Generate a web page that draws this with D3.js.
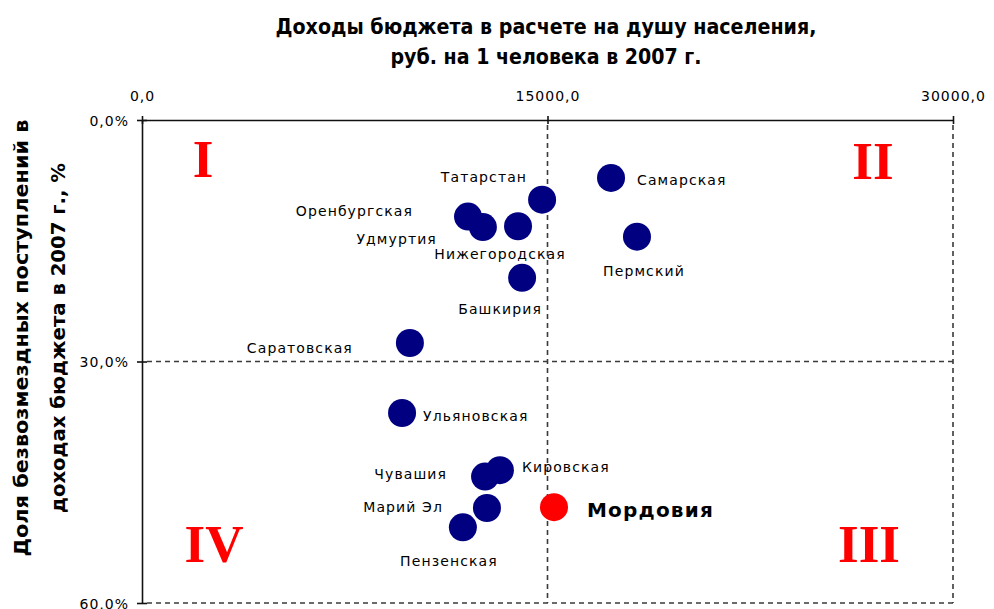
<!DOCTYPE html>
<html><head><meta charset="utf-8">
<script src="https://cdn.jsdelivr.net/npm/d3@7"></script>
<style>body{margin:0;background:#fff}svg{display:block}</style>
</head><body>
<svg id="c" width="994" height="609"></svg>
<script>
// ---- data ----
const regions = ["Самарская","Пермский","Татарстан","Оренбургская","Удмуртия","Нижегородская","Башкирия","Саратовская","Ульяновская","Кировская","Чувашия","Марий Эл","Пензенская","Мордовия"];
const incomePerCapita = [17350,18310,14800,12060,12610,13910,14060,9910,9620,13240,12690,12760,11870,15240];
const transfersShare = [7.2,14.5,9.9,12.0,13.3,13.2,19.6,27.7,36.4,43.5,44.3,48.2,50.6,48.1];
const xTicks = [0,15000,30000];
const yTicks = [0,30,60];
const highlight = "Мордовия";
const quadrants = ["I","II","III","IV"];
const titleLines = ["Доходы бюджета в расчете на душу населения,","руб. на 1 человека в 2007 г."];
const yTitleLines = ["Доля безвозмездных поступлений в","доходах бюджета в 2007 г., %"];

// ---- layout (label placement relative to point) ----
const labelPos = {
  "Самарская":{a:"start",dx:26,dy:7},
  "Пермский":{a:"middle",dx:7,dy:39},
  "Татарстан":{a:"end",dx:-15,dy:-18},
  "Оренбургская":{a:"end",dx:-55,dy:-1},
  "Удмуртия":{a:"end",dx:-46,dy:17},
  "Нижегородская":{a:"middle",dx:-18,dy:33},
  "Башкирия":{a:"middle",dx:-22,dy:36},
  "Саратовская":{a:"end",dx:-57,dy:10},
  "Ульяновская":{a:"start",dx:21,dy:8},
  "Кировская":{a:"start",dx:22,dy:2},
  "Чувашия":{a:"end",dx:-38,dy:2},
  "Марий Эл":{a:"end",dx:-44,dy:4},
  "Пензенская":{a:"middle",dx:-14,dy:39},
  "Мордовия":{a:"start",dx:33,dy:10}
};

const data = regions.map((r,i)=>({name:r,x:incomePerCapita[i],y:transfersShare[i]}));
const svg = d3.select("#c");
const x = d3.scaleLinear().domain([0,30000]).range([142,953]);
const y = d3.scaleLinear().domain([0,60]).range([120,603]);
const fmt = d => d3.format(".1f")(d).replace(".",",");

// dashed guide lines
const g = svg.append("g").attr("stroke","#3a3a3a").attr("stroke-width",1.6).attr("stroke-dasharray","5,4");
g.selectAll("line.v").data(xTicks.slice(1)).join("line").attr("class","v")
  .attr("x1",d=>x(d)).attr("x2",d=>x(d)).attr("y1",y(0)+5).attr("y2",y(60));
g.selectAll("line.h").data(yTicks.slice(1)).join("line").attr("class","h")
  .attr("y1",d=>y(d)).attr("y2",d=>y(d)).attr("x1",x(0)+5).attr("x2",x(30000));

// axes
const ax = svg.append("g").attr("transform",`translate(0,${y(0)})`)
  .call(d3.axisTop(x).tickValues(xTicks).tickSizeOuter(0).tickFormat(fmt));
ax.selectAll(".tick line").attr("y1",4).attr("y2",-4);
ax.selectAll(".tick text").attr("y",-19).attr("dy",0);
const ay = svg.append("g").attr("transform",`translate(${x(0)},0)`)
  .call(d3.axisLeft(y).tickValues(yTicks).tickSizeOuter(0).tickFormat(d=>fmt(d)+"%"));
ay.selectAll(".tick line").attr("x1",5).attr("x2",-5);
ay.selectAll(".tick text").attr("x",-13).attr("dy","0.36em");
svg.selectAll(".domain").attr("stroke","#111").attr("stroke-width",1.6);
svg.selectAll(".tick line").attr("stroke","#111").attr("stroke-width",1.6);
svg.selectAll(".tick text").attr("font-family","DejaVu Sans").attr("font-size",14)
  .attr("letter-spacing",1).attr("fill","#000");

// titles
svg.append("g").selectAll("text").data(titleLines).join("text")
  .attr("x",546).attr("y",(d,i)=>34+i*30).attr("text-anchor","middle")
  .attr("font-family","'Liberation Sans Narrow','DejaVu Sans Condensed',sans-serif")
  .attr("font-weight","bold").attr("font-size",21)
  .attr("textLength",(d,i)=>[541,311][i]).attr("lengthAdjust","spacingAndGlyphs")
  .text(d=>d);
svg.append("g").selectAll("text").data(yTitleLines).join("text")
  .attr("transform",(d,i)=>`translate(${[28,65][i]},${[338,338][i]}) rotate(-90)`)
  .attr("text-anchor","middle")
  .attr("font-family","'DejaVu Sans Condensed','DejaVu Sans',sans-serif")
  .attr("font-weight","bold").attr("font-size",19)
  .attr("textLength",(d,i)=>[437,350][i]).attr("lengthAdjust","spacingAndGlyphs")
  .text(d=>d);

// quadrant numerals
const qPos = {
  "I":[x(0)+61,y(0)+57],
  "II":[x(30000)-80,y(0)+59],
  "III":[x(30000)-84,y(60)-41],
  "IV":[x(0)+72,y(60)-41]
};
svg.append("g").selectAll("text").data(quadrants).join("text")
  .attr("x",d=>qPos[d][0]).attr("y",d=>qPos[d][1]).attr("text-anchor","middle")
  .attr("font-family","'Liberation Serif','DejaVu Serif',serif").attr("font-weight","bold")
  .attr("font-size",53).attr("fill","#ff0000").text(d=>d);

// labels
svg.append("g").selectAll("text").data(data).join("text")
  .attr("x",d=>x(d.x)+labelPos[d.name].dx).attr("y",d=>y(d.y)+labelPos[d.name].dy)
  .attr("text-anchor",d=>labelPos[d.name].a)
  .attr("font-family","DejaVu Sans")
  .attr("font-size",d=>d.name===highlight?20:14)
  .attr("font-weight",d=>d.name===highlight?"bold":"normal")
  .attr("letter-spacing",d=>d.name===highlight?1.2:1.1)
  .attr("fill","#000").text(d=>d.name);

// points
svg.append("g").selectAll("circle").data(data).join("circle")
  .attr("cx",d=>x(d.x)).attr("cy",d=>y(d.y)).attr("r",14)
  .attr("fill",d=>d.name===highlight?"#ff0000":"#000080");
</script>
</body></html>
